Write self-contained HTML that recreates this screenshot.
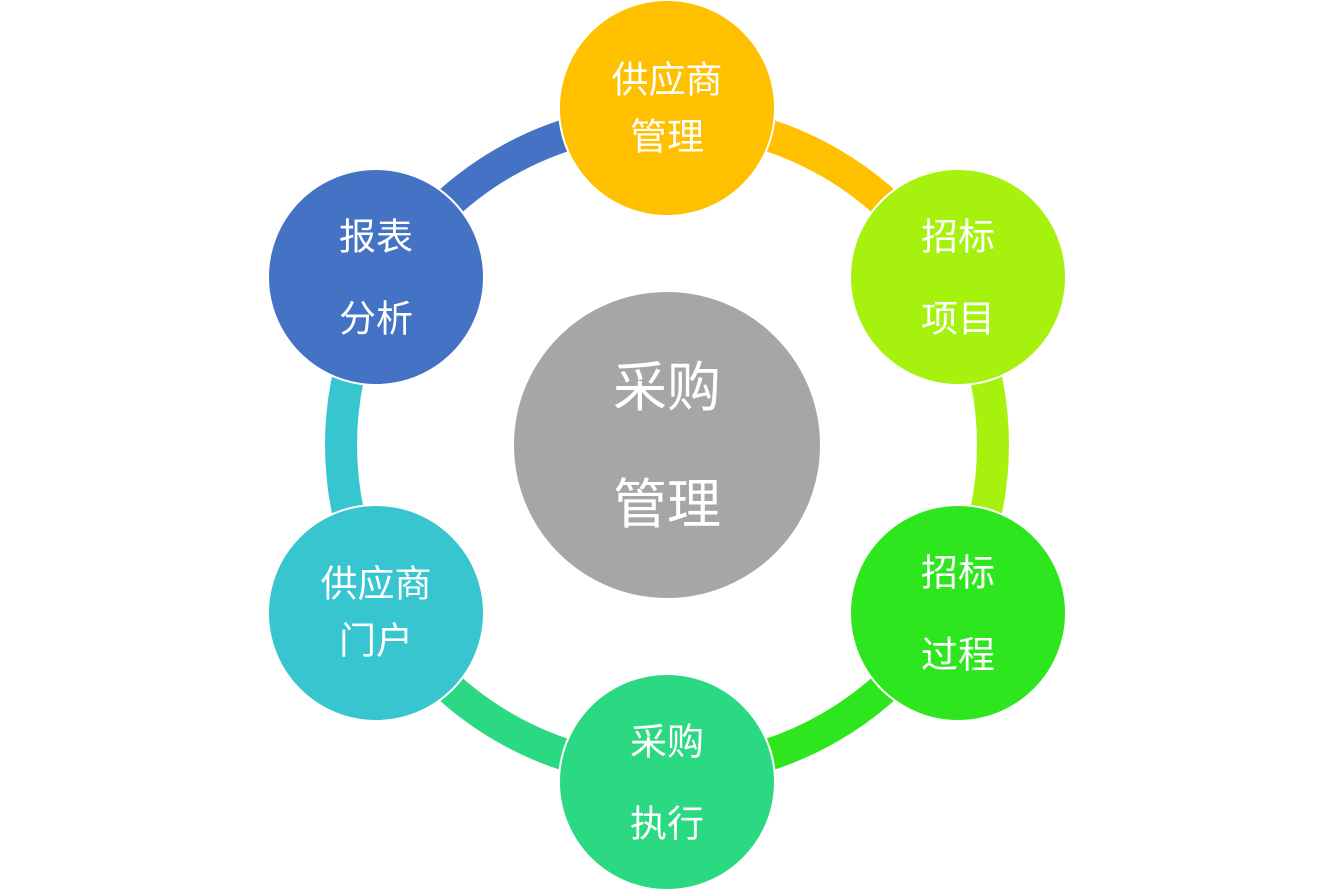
<!DOCTYPE html>
<html><head><meta charset="utf-8"><style>
html,body{margin:0;padding:0;background:#fff;}
svg text{font-family:"Liberation Sans","Noto Sans CJK SC",sans-serif;fill:#fff;text-anchor:middle;dominant-baseline:central;}
</style></head><body>
<svg width="1334" height="891" viewBox="0 0 1334 891" xmlns="http://www.w3.org/2000/svg">
<g fill="none" stroke-width="32">
<path d="M667 119 A326 326 0 0 1 949.3 282" stroke="#FFC000"/>
<path d="M949.3 282 A326 326 0 0 1 949.3 608" stroke="#A6F20E"/>
<path d="M949.3 608 A326 326 0 0 1 667 771" stroke="#2DE61E"/>
<path d="M667 771 A326 326 0 0 1 384.7 608" stroke="#2AD981"/>
<path d="M384.7 608 A326 326 0 0 1 384.7 282" stroke="#37C5D0"/>
<path d="M384.7 282 A326 326 0 0 1 667 119" stroke="#4472C4"/>
</g>
<g stroke="#fff" stroke-width="2">
<circle cx="667" cy="445" r="154" fill="#A6A6A6"/>
<circle cx="667" cy="108" r="108" fill="#FFC000"/>
<circle cx="958" cy="277" r="108" fill="#A6F20E"/>
<circle cx="958" cy="613" r="108" fill="#2DE61E"/>
<circle cx="667" cy="782" r="108" fill="#2AD981"/>
<circle cx="376" cy="613" r="108" fill="#37C5D0"/>
<circle cx="376" cy="277" r="108" fill="#4472C4"/>
</g>
<g font-size="37">
<text x="667" y="80">供应商</text><text x="667" y="137">管理</text>
<text x="958" y="237">招标</text><text x="958" y="319">项目</text>
<text x="958" y="573">招标</text><text x="958" y="655">过程</text>
<text x="667" y="742">采购</text><text x="667" y="824">执行</text>
<text x="376" y="584">供应商</text><text x="376" y="641">门户</text>
<text x="376" y="237">报表</text><text x="376" y="319">分析</text>
</g>
<g font-size="54">
<text x="667" y="388">采购</text><text x="667" y="505">管理</text>
</g>
</svg>
</body></html>
